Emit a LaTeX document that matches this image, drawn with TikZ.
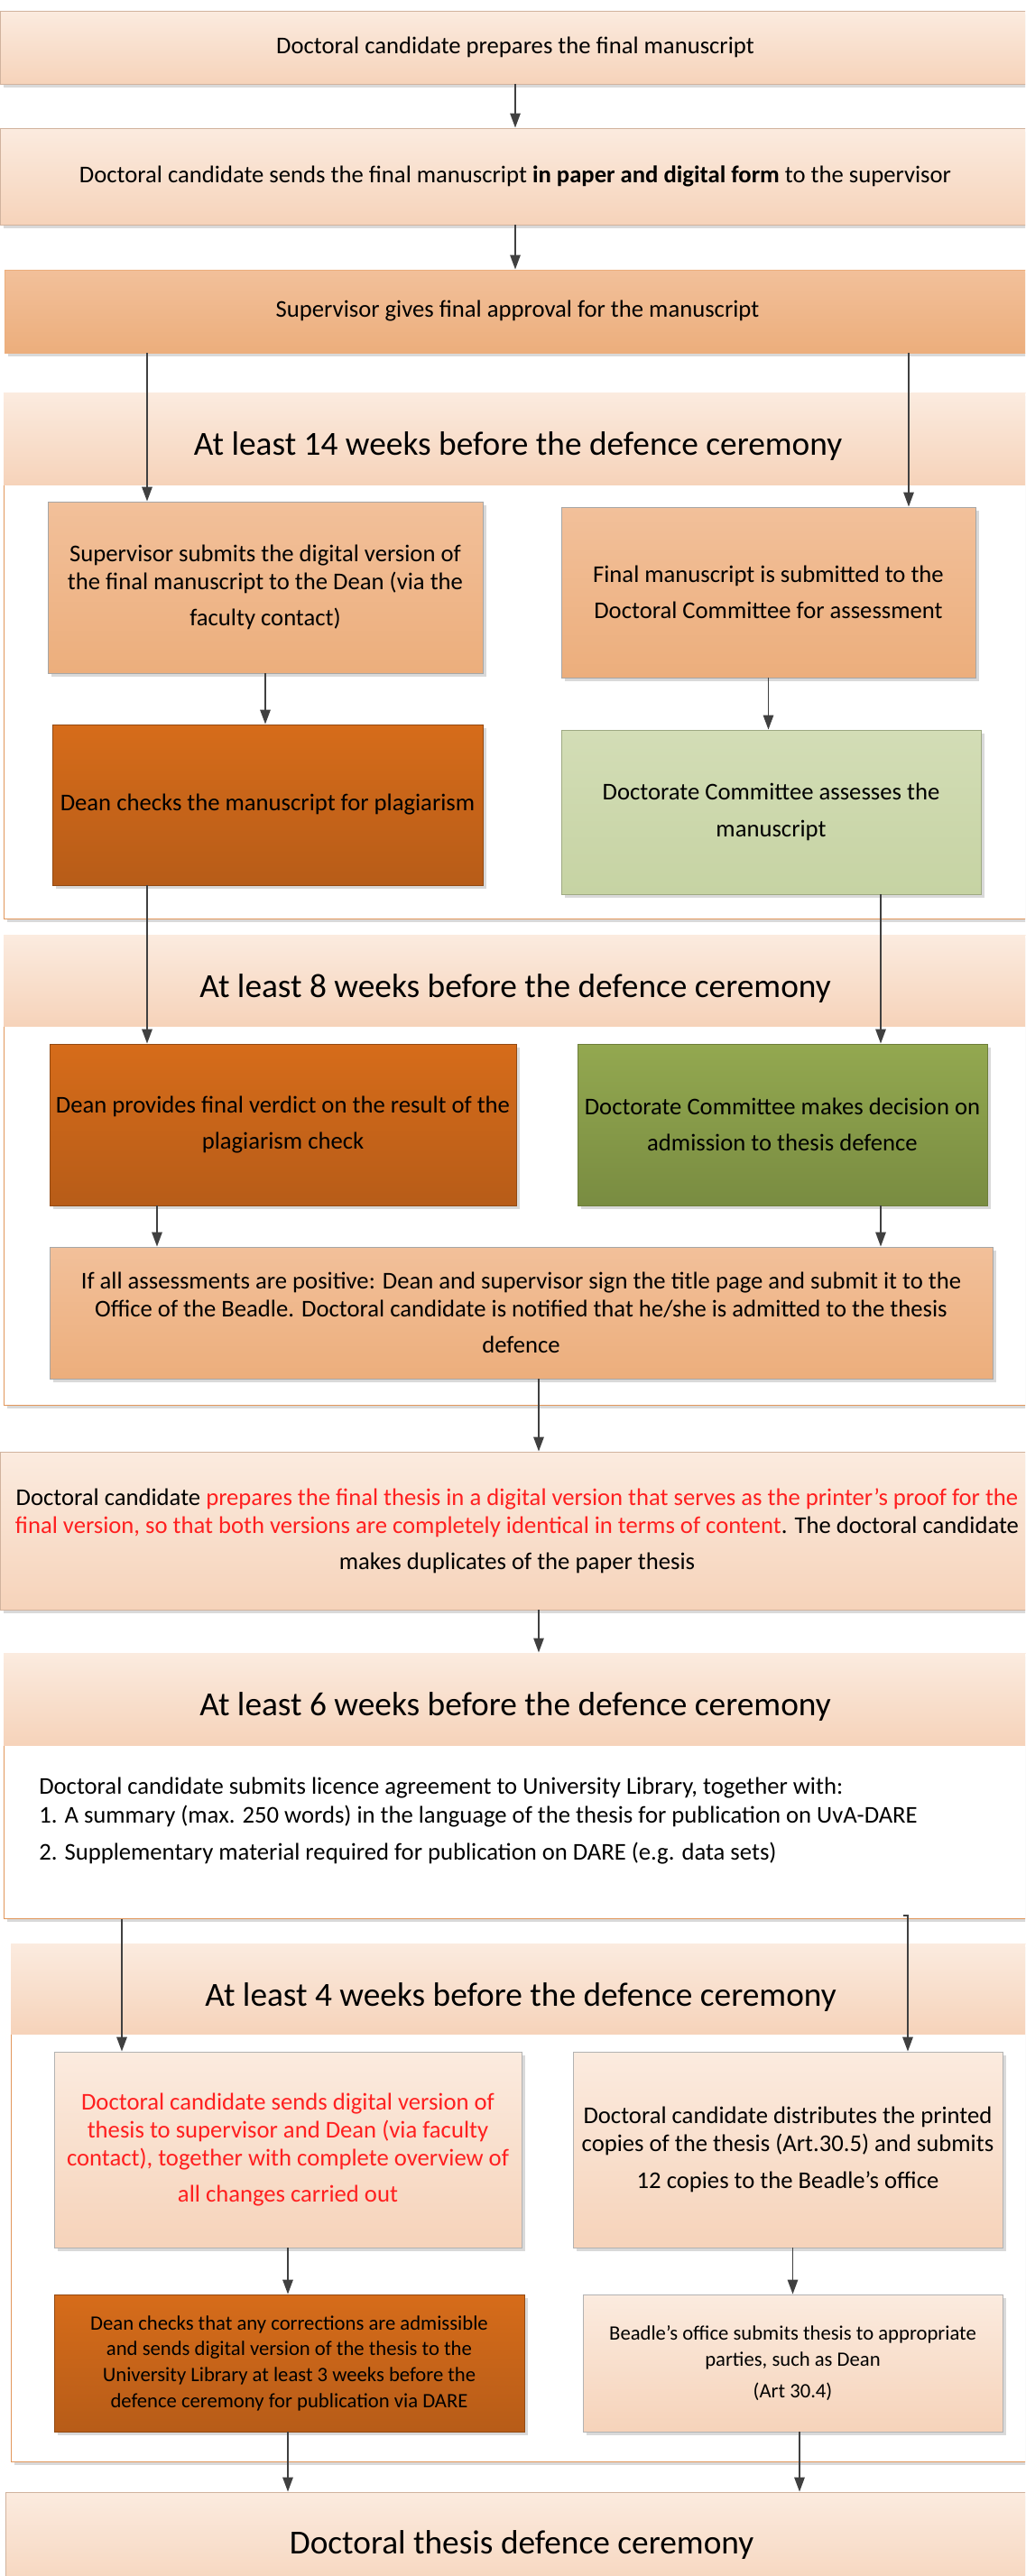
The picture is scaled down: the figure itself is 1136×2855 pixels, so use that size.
\documentclass[tikz,border=0pt]{standalone}
\usepackage{fontspec}
\setmainfont{Carlito}
\usepackage{tikz}
\usetikzlibrary{arrows.meta, shadows}
\definecolor{peachtop}{HTML}{FBEBDF}
\definecolor{peachbot}{HTML}{F6D3BA}
\definecolor{aprtop}{HTML}{F2C09A}
\definecolor{aprbot}{HTML}{ECAE7C}
\definecolor{rusttop}{HTML}{D66C1A}
\definecolor{rustbot}{HTML}{B75C18}
\definecolor{sagetop}{HTML}{D3DDB6}
\definecolor{sagebot}{HTML}{C6D3A3}
\definecolor{olivetop}{HTML}{93A850}
\definecolor{olivebot}{HTML}{798C41}
\definecolor{frameline}{HTML}{E2975C}
\definecolor{linegray}{HTML}{404040}
\definecolor{alertred}{HTML}{FF1F1F}

\begin{document}
\begin{tikzpicture}[
    x=0.75pt, y=-0.75pt,
    every node/.style={font=\fontsize{20}{23.25}\selectfont, inner sep=0pt},
    stage/.style={
        rectangle,
        line width=0.6pt,
        align=center,
        drop shadow={shadow xshift=3pt, shadow yshift=-3pt, fill=black!15, opacity=1}
    },
    pale/.style={stage, top color=peachtop, bottom color=peachbot, draw=peachbot!85!black},
    apricot/.style={stage, top color=aprtop, bottom color=aprbot, draw=black!35},
    rust/.style={stage, top color=rusttop, bottom color=rustbot, draw=rustbot!80!black},
    sage/.style={stage, top color=sagetop, bottom color=sagebot, draw=sagebot!80!black},
    olive/.style={stage, top color=olivetop, bottom color=olivebot, draw=olivebot!90!black},
    period/.style={rectangle, draw=frameline, line width=0.75pt, fill=white,
        drop shadow={shadow xshift=3pt, shadow yshift=-3pt, fill=black!15, opacity=1}},
    band/.style={rectangle, top color=peachtop, bottom color=peachbot},
    heading/.style={font=\fontsize{28}{33}\selectfont},
    smalltext/.style={font=\fontsize{17}{21.5}\selectfont},
    arrow/.style={line width=1.4pt, draw=linegray, -{Triangle[length=12pt, width=8.5pt]}}
]
\useasboundingbox (0,0) rectangle (1136,2855);
\begin{scope}
\clip (0,0) rectangle (1136,2855);

% top of the flow
\node[pale, minimum width=856.5pt, minimum height=60.75pt] (prep) at (571,52.5)
    {Doctoral candidate prepares the final manuscript};
\node[pale, minimum width=856.5pt, minimum height=80.25pt] (send) at (571,195.5)
    {Doctoral candidate sends the final manuscript \textbf{in paper and digital form} to the supervisor};
\node[apricot, draw=aprbot, minimum width=852.75pt, minimum height=69pt] (approve) at (573.5,345)
    {Supervisor gives final approval for the manuscript};

% 14 weeks
\node[period, minimum width=868.5pt, minimum height=437.25pt] (fr14) at (583,726.5) {};
\node[band, minimum width=868.5pt, minimum height=76.5pt] (hd14) at (583,486) {};
\node[heading] (t14) at (574,495) {At least 14 weeks before the defence ceremony};
\node[apricot, minimum width=361.5pt, minimum height=142.5pt] (subdean) at (294,651)
    {Supervisor submits the digital version of\\ the final manuscript to the Dean (via the\\[7pt] faculty contact)};
\node[apricot, minimum width=344.25pt, minimum height=141.75pt] (subcom) at (851.5,656.5)
    {Final manuscript is submitted to the\\[7pt] Doctoral Committee for assessment};
\node[rust, minimum width=357.75pt, minimum height=133.5pt] (plag) at (296.5,892)
    {Dean checks the manuscript for plagiarism};
\node[sage, minimum width=348.75pt, minimum height=136.5pt] (assess) at (854.5,900)
    {Doctorate Committee assesses the\\[7pt] manuscript};

% 8 weeks
\node[period, minimum width=868.5pt, minimum height=390.75pt] (fr8) at (583,1296.5) {};
\node[band, minimum width=868.5pt, minimum height=75.75pt] (hd8) at (583,1086.5) {};
\node[heading] (t8) at (571,1096) {At least 8 weeks before the defence ceremony};
\node[rust, minimum width=387.75pt, minimum height=134.25pt] (verdict) at (313.5,1246.5)
    {Dean provides final verdict on the result of the\\[7pt] plagiarism check};
\node[olive, minimum width=340.5pt, minimum height=134.25pt] (admit) at (867,1246.5)
    {Doctorate Committee makes decision on\\[7pt] admission to thesis defence};
\node[apricot, minimum width=783.75pt, minimum height=109.5pt] (sign) at (577.5,1455)
    {If all assessments are positive: Dean and supervisor sign the title page and submit it to the\\
     Office of the Beadle. Doctoral candidate is notified that he/she is admitted to the thesis\\[7pt] defence};

\node[pale, minimum width=859.5pt, minimum height=131.25pt] (proof) at (573,1696.5)
    {Doctoral candidate \textcolor{alertred}{prepares the final thesis in a digital version that serves as the printer’s proof for the}\\
     \textcolor{alertred}{final version, so that both versions are completely identical in terms of content}. The doctoral candidate\\[7pt]
     makes duplicates of the paper thesis};

% 6 weeks
\node[period, minimum width=868.5pt, minimum height=220.5pt] (fr6) at (583,1979) {};
\node[band, minimum width=868.5pt, minimum height=76.5pt] (hd6) at (583,1883) {};
\node[heading] (t6) at (571,1892) {At least 6 weeks before the defence ceremony};
\node[anchor=west, align=left, font=\fontsize{20}{24}\selectfont] (licence) at (43,2018)
    {Doctoral candidate submits licence agreement to University Library, together with:\\
     1. A summary (max. 250 words) in the language of the thesis for publication on UvA-DARE\\[7pt]
     2. Supplementary material required for publication on DARE (e.g. data sets)};

% 4 weeks
\node[period, minimum width=862.5pt, minimum height=430.5pt] (fr4) at (587,2441) {};
\node[band, minimum width=862.5pt, minimum height=75pt] (hd4) at (587,2204) {};
\node[heading] (t4) at (577,2214) {At least 4 weeks before the defence ceremony};
\node[pale, draw=black!30, minimum width=388.5pt, minimum height=162.75pt, text=alertred] (digital) at (319,2382.5)
    {Doctoral candidate sends digital version of\\ thesis to supervisor and Dean (via faculty\\
     contact), together with complete overview of\\[7pt] all changes carried out};
\node[pale, draw=black!30, minimum width=357pt, minimum height=162.75pt] (copies) at (873,2382.5)
    {Doctoral candidate distributes the printed\\ copies of the thesis (Art.30.5) and submits\\[7pt]
     12 copies to the Beadle’s office};
\node[rust, smalltext, minimum width=390.75pt, minimum height=114pt] (library) at (320.5,2619)
    {Dean checks that any corrections are admissible\\ and sends digital version of the thesis to the\\
     University Library at least 3 weeks before the\\ defence ceremony for publication via DARE};
\node[pale, smalltext, draw=black!30, minimum width=348.75pt, minimum height=114pt] (beadle) at (878.5,2619)
    {Beadle’s office submits thesis to appropriate\\ parties, such as Dean\\[5pt] (Art 30.4)};

\node[pale, minimum width=858pt, minimum height=88.5pt] (ceremony) at (578,2821)
    {\fontsize{28}{33}\selectfont Doctoral thesis defence ceremony};

% connector columns
\coordinate (xl1) at (163,0);
\coordinate (xr1) at (1007,0);
\coordinate (xl2) at (174,0);
\coordinate (xr2) at (976,0);
\coordinate (xm) at (597,0);
\coordinate (xl3) at (135,0);
\coordinate (xr3) at (1006,0);
\coordinate (xr4) at (886,0);
\coordinate (hook) at (1001,2123);

\draw[arrow] (prep.south) -- (send.north);
\draw[arrow] (send.south) -- (send.south |- approve.north);
\draw[arrow] (approve.south -| xl1) -- (subdean.north -| xl1);
\draw[arrow] (approve.south -| xr1) -- (subcom.north -| xr1);
\draw[arrow] (subdean.south) -- (subdean.south |- plag.north);
\draw[arrow] (subcom.south) -- (subcom.south |- assess.north);
\draw[arrow] (plag.south -| xl1) -- (verdict.north -| xl1);
\draw[arrow] (assess.south -| xr2) -- (admit.north -| xr2);
\draw[arrow] (verdict.south -| xl2) -- (sign.north -| xl2);
\draw[arrow] (admit.south -| xr2) -- (sign.north -| xr2);
\draw[arrow] (sign.south -| xm) -- (proof.north -| xm);
\draw[arrow] (proof.south -| xm) -- (fr6.north -| xm);
\draw[arrow] (fr6.south -| xl3) -- (digital.north -| xl3);
\draw[arrow] (hook) -- (hook -| xr3) -- (copies.north -| xr3);
\draw[arrow] (digital.south) -- (digital.south |- library.north);
\draw[arrow] (beadle.north |- copies.south) -- (beadle.north);
\draw[arrow] (library.south -| digital.south) -- (ceremony.north -| digital.south);
\draw[arrow] (beadle.south -| xr4) -- (ceremony.north -| xr4);

\end{scope}
\end{tikzpicture}
\end{document}
